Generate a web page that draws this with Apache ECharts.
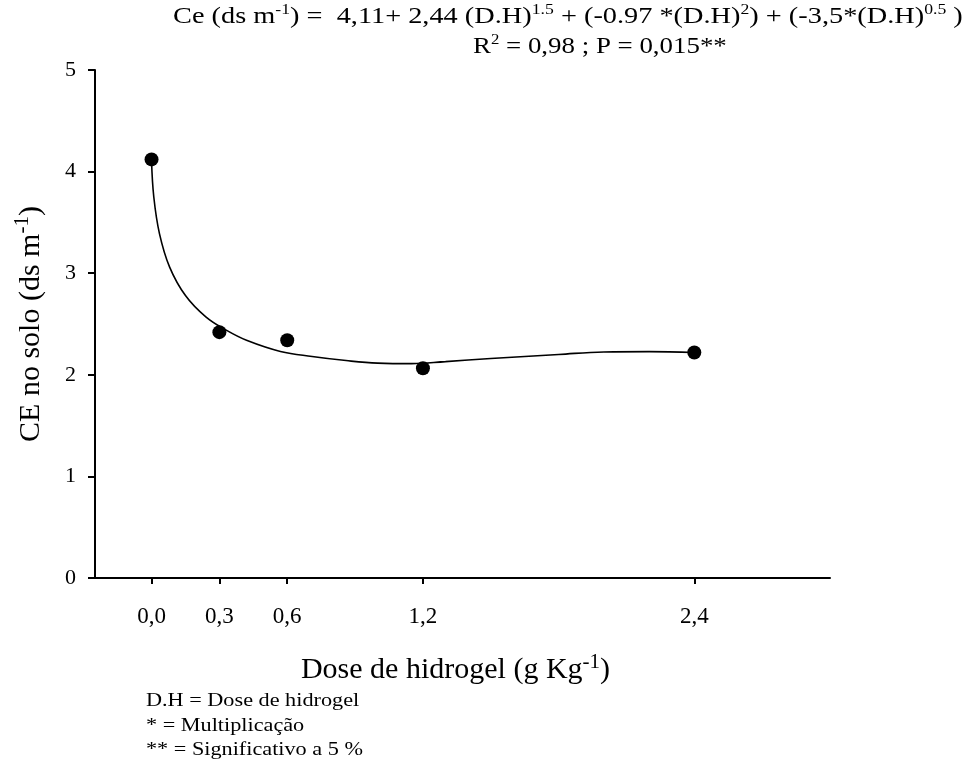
<!DOCTYPE html>
<html>
<head>
<meta charset="utf-8">
<script src="https://cdn.jsdelivr.net/npm/echarts@6/dist/echarts.min.js"></script>
<style>html,body{margin:0;padding:0;background:#fff}#c{width:971px;height:764px}</style>
</head>
<body>
<div id="c"></div>
<script>
// Observed points
const doseX = [0.0, 0.3, 0.6, 1.2, 2.4];
const ceY = [4.12, 2.42, 2.34, 2.065, 2.22];
// Fitted curve
const curveX = [0, 0.01, 0.035, 0.08, 0.15, 0.24, 0.33, 0.42, 0.57, 0.71, 0.86, 1.0, 1.15, 1.3, 1.5, 1.8, 2.0, 2.2, 2.4];
const curveY = [4.11, 3.75, 3.39, 3.06, 2.78, 2.57, 2.44, 2.34, 2.23, 2.18, 2.14, 2.115, 2.11, 2.13, 2.16, 2.20, 2.225, 2.228, 2.22];
// Tick labels
const xTicks = [0.0, 0.3, 0.6, 1.2, 2.4];
const yTicks = [0, 1, 2, 3, 4, 5];
// Annotation texts
const eqLine1 = '{a|Ce (ds m}{s|-1}{a|) =  4,11+ 2,44 (D.H)}{s|1.5}{a| + (-0.97 *(D.H)}{s|2}{a|) + (-3,5*(D.H)}{s|0.5}{a| )}';
const eqLine2 = '{a|R}{s|2}{a| = 0,98 ; P = 0,015**}';
const notes = ['D.H = Dose de hidrogel', '* = Multiplicação', '** = Significativo a 5 %'];

const FF = '"Liberation Serif", "Times New Roman", serif';
const black = '#000';

const chart = echarts.init(document.getElementById('c'), null, {renderer: 'canvas'});
const eqRich = {
  a: {fontFamily: FF, fontSize: 24, fill: black, color: black, lineHeight: 28},
  s: {fontFamily: FF, fontSize: 15, fill: black, color: black, verticalAlign: 'top', lineHeight: 28, padding: [0, 0, 12, 0]}
};

const graphics = [
  {type: 'text', x: 173, y: 17, scaleX: 1.18, z: 10,
    style: {text: eqLine1, rich: eqRich, textAlign: 'left', textVerticalAlign: 'middle', verticalAlign: 'middle', fill: black}},
  {type: 'text', x: 473, y: 47, scaleX: 1.12, z: 10,
    style: {text: eqLine2, rich: eqRich, textAlign: 'left', textVerticalAlign: 'middle', verticalAlign: 'middle', fill: black}}
];
const noteY = [701, 726, 750];
notes.forEach((t, i) => graphics.push({
  type: 'text', x: 146, y: noteY[i], scaleX: 1.17, z: 10,
  style: {text: t, font: '19px ' + FF, fill: black, textAlign: 'left', textVerticalAlign: 'middle', verticalAlign: 'middle'}
}));

chart.setOption({
  animation: false,
  backgroundColor: '#fff',
  graphic: graphics,
  grid: {left: 95, right: 141, top: 70, bottom: 186, containLabel: false},
  xAxis: {
    type: 'value', min: -0.25, max: 3.0,
    name: '{a|Dose de hidrogel (g Kg}{s|-1}{a|)}',
    nameLocation: 'middle', nameGap: 74, nameMoveOverlap: false,
    nameTextStyle: {padding: [0, 14, 0, 0], rich: {
      a: {fontFamily: FF, fontSize: 30, color: black, lineHeight: 36},
      s: {fontFamily: FF, fontSize: 21, color: black, verticalAlign: 'top', lineHeight: 36, padding: [0, 0, 14, 0]}
    }},
    splitLine: {show: false},
    axisLine: {onZero: false, lineStyle: {color: black, width: 2}},
    axisTick: {show: true, inside: false, length: 6, customValues: xTicks, lineStyle: {color: black, width: 2}},
    axisLabel: {customValues: xTicks, margin: 27, fontFamily: FF, fontSize: 23, color: black,
      formatter: v => v.toFixed(1).replace('.', ',')}
  },
  yAxis: {
    type: 'value', min: 0, max: 5, interval: 1,
    name: '{a|CE no solo (ds m}{s|-1}{a|)}',
    nameLocation: 'middle', nameGap: 45, nameRotate: 90, nameMoveOverlap: false,
    nameTextStyle: {rich: {
      a: {fontFamily: FF, fontSize: 30, color: black, lineHeight: 38},
      s: {fontFamily: FF, fontSize: 21, color: black, verticalAlign: 'top', lineHeight: 38, padding: [0, 0, 14, 0]}
    }},
    splitLine: {show: false},
    axisLine: {show: true, onZero: false, lineStyle: {color: black, width: 2}},
    axisTick: {show: true, inside: false, length: 7, lineStyle: {color: black, width: 2}},
    axisLabel: {margin: 19, fontFamily: FF, fontSize: 22, color: black,
      customValues: yTicks, formatter: v => String(v)}
  },
  series: [
    {
      type: 'line', name: 'Ajuste', smooth: 0.4, showSymbol: false, symbol: 'none',
      data: curveX.map((x, i) => [x, curveY[i]]),
      lineStyle: {color: black, width: 1.6}, z: 2
    },
    {
      type: 'scatter', name: 'CE', symbol: 'circle', symbolSize: 14,
      data: doseX.map((x, i) => [x, ceY[i]]),
      itemStyle: {color: black, opacity: 1}, z: 3
    }
  ]
});
</script>
</body>
</html>
